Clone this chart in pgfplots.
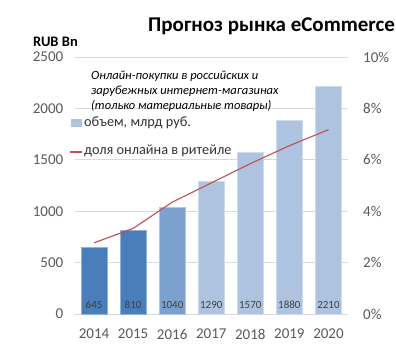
\documentclass[border=0pt]{standalone}
\usepackage{pgfplots}
\pgfplotsset{compat=1.18}
\usepackage{fontspec}
\setmainfont{Carlito}
\definecolor{darkb}{HTML}{4A7EBB}
\definecolor{midb}{HTML}{7CA1CF}
\definecolor{lightb}{HTML}{AEC3E0}
\definecolor{redl}{HTML}{C0504D}
\definecolor{tickgray}{HTML}{595959}
\definecolor{gridgray}{HTML}{D9D9D9}
\begin{document}
\begin{tikzpicture}[x=1pt,y=1pt]
\useasboundingbox (0,0) rectangle (396,357);
\pgfplotsset{common/.style={
  scale only axis, width=273.5pt, height=257pt,
  at={(74.5pt,43pt)}, anchor=south west,
  xmin=-0.5, xmax=6.5,
  major tick length=0pt,
  axis line style={draw=none},
  /pgf/number format/assume math mode=true,
  /pgf/number format/1000 sep={},
  ticklabel style={font=\fontsize{15}{15}\selectfont, text=tickgray, inner sep=0pt},
}}
\begin{axis}[common,
  ymin=0, ymax=2500, ytick={0,500,...,2500},
  ymajorgrids, grid style={gridgray, line width=0.8pt},
  xtick={0,...,6}, xticklabels={2014,2015,2016,2017,2018,2019,2020},
  xticklabel style={anchor=north, yshift=-15pt},
  yticklabel style={anchor=east, xshift=-11pt},
]
\addplot[ybar, bar shift=0pt, bar width=26pt, fill=darkb, draw=darkb!60!white, line width=0.7pt]
  coordinates {(0,645) (1,810)};
\addplot[ybar, bar shift=0pt, bar width=26pt, fill=midb, draw=midb!60!white, line width=0.7pt]
  coordinates {(2,1040)};
\addplot[ybar, bar shift=0pt, bar width=26pt, fill=lightb, draw=lightb!60!white, line width=0.7pt]
  coordinates {(3,1290) (4,1570) (5,1880) (6,2210)};
\addplot[draw=none, mark=none, point meta=explicit symbolic, nodes near coords,
  nodes near coords style={anchor=south, inner sep=0pt, yshift=5pt,
    font=\fontsize{11}{11}\selectfont, text=black!75}]
  table[meta=lab] {
x y lab
0 0 645
1 0 810
2 0 1040
3 0 1290
4 0 1570
5 0 1880
6 0 2210
};
\end{axis}
\begin{axis}[common,
  hide x axis,
  axis y line*=right,
  ymin=0, ymax=10, ytick={0,2,...,10},
  yticklabel={\pgfmathprintnumber{\tick}\%},
  yticklabel style={anchor=west, xshift=15pt},
]
\addplot[redl, line width=1.1pt] coordinates {(0,2.77) (1,3.33) (2,4.35) (3,5.1) (4,5.85) (5,6.55) (6,7.17)};
\end{axis}
\node[anchor=base west, inner sep=0pt, font=\bfseries\fontsize{21}{21}\selectfont] at (148,325) {Прогноз рынка eCommerce};
\node[anchor=base west, inner sep=0pt, font=\bfseries\fontsize{14.5}{14.5}\selectfont] at (33,310) {RUB Bn};
\node[anchor=north west, inner sep=0pt, align=left, font=\itshape\fontsize{12.5}{15}\selectfont] at (91,286) {Онлайн-покупки в российских и\\зарубежных интернет-магазинах\\(только материальные товары)};
\fill[lightb] (71,230) rectangle (82,238);
\node[anchor=west, inner sep=0pt, font=\fontsize{14.3}{14}\selectfont, text=black!80] at (84,234) {объем, млрд руб.};
\draw[redl, line width=1.1pt] (70,205) -- (82,205);
\node[anchor=west, inner sep=0pt, font=\fontsize{14.3}{14}\selectfont, text=black!80] at (84,206) {доля онлайна в ритейле};
\end{tikzpicture}
\end{document}
